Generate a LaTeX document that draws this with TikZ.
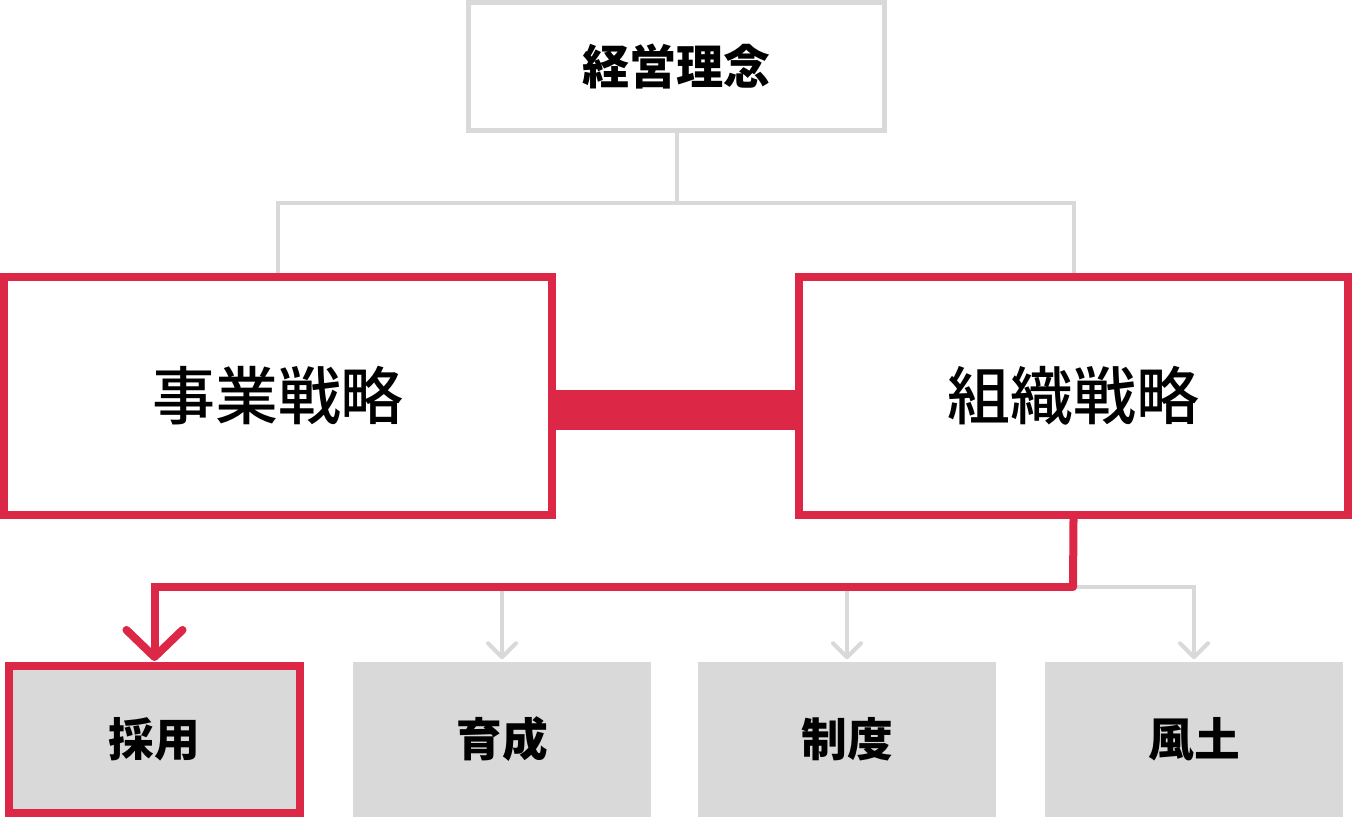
\documentclass[tikz,border=0pt]{standalone}
\usepackage{fontspec}
\setmainfont{Noto Sans CJK JP}
\newfontfamily\midfont{Noto Sans CJK JP Medium}
\usepackage{xcolor}
\usepackage{tikz}
\usetikzlibrary{positioning,arrows.meta}

\definecolor{accent}{HTML}{DC2846}
\definecolor{paleg}{HTML}{D9D9D9}

\begin{document}
\begin{tikzpicture}[x=0.01cm,y=-0.01cm,
    topbox/.style={draw=paleg, line width=0.05cm, fill=white, inner sep=0pt,
        minimum width=4.16cm, minimum height=1.28cm,
        font=\fontsize{13.4pt}{16pt}\selectfont\bfseries},
    stratbox/.style={draw=accent, line width=0.08cm, fill=white, inner sep=0pt,
        minimum width=5.48cm, minimum height=2.38cm,
        font=\fontsize{17.9pt}{21pt}\selectfont\midfont},
    hrbox/.style={fill=paleg, inner sep=0pt,
        minimum width=2.97cm, minimum height=1.55cm,
        font=\fontsize{13pt}{16pt}\selectfont\bfseries},
    pickbox/.style={hrbox, draw=accent, line width=0.08cm,
        minimum width=2.91cm, minimum height=1.47cm},
    grayline/.style={draw=paleg, line width=0.04cm},
    grayarrow/.style={grayline, -{Straight Barb[length=0.14cm,width=0.28cm,round]}, shorten >=0.02cm},
    redline/.style={draw=accent, line width=0.08cm},
    redarrow/.style={redline, line cap=round, -{Straight Barb[length=0.27cm,width=0.56cm,round]}, shorten >=0.01cm},
    linkbar/.style={draw=accent, line width=0.40cm}]

    \useasboundingbox (0,0) rectangle (1352,817);

    % gray tree from the top box
    \coordinate (split) at (679,203);
    \coordinate (turn) at (1073,587);

    \node[topbox] (idea) at (676.5,66.5) {経営理念};

    \node[stratbox] (biz) at (278,396) {事業戦略};
    \node[stratbox] (org) at (1073.5,396) {組織戦略};

    \node[pickbox] (hire) at (154.5,739.5) {採用};
    \node[hrbox] (train) at (502,739.5) {育成};
    \node[hrbox] (rules) at (847,739.5) {制度};
    \node[hrbox] (climate) at (1194,739.5) {風土};

    \draw[grayline] (idea.south) -- (idea.south |- split);
    \draw[grayline] (biz.north) |- (split) -| (org.north);

    % gray branches
    \draw[grayarrow] (turn) -| (climate.north);
    \draw[grayarrow] (train.north |- turn) -- (train.north);
    \draw[grayarrow] (rules.north |- turn) -- (rules.north);

    % red link and path
    \draw[linkbar] ([yshift=-0.14cm]biz.east) -- ([yshift=-0.14cm]org.west);
    \draw[redline] (org.south) -- (turn);
    \draw[redarrow] (turn) -| (hire.north);

\end{tikzpicture}
\end{document}
